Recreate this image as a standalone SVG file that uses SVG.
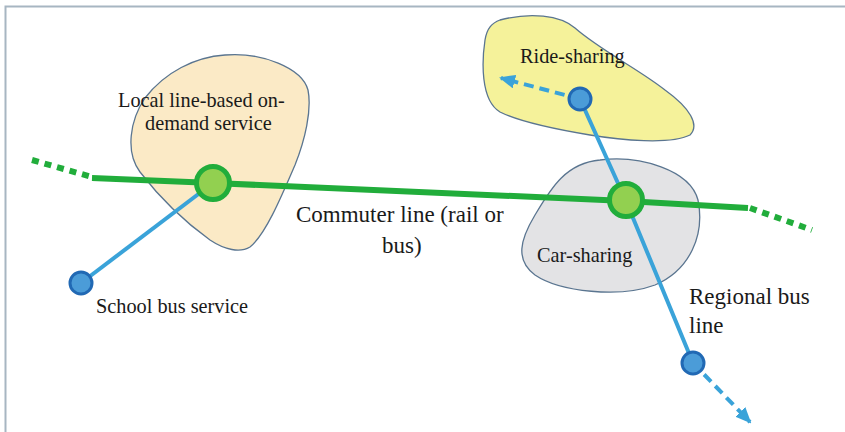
<svg xmlns="http://www.w3.org/2000/svg" width="845" height="432" viewBox="0 0 845 432">
  <defs>
    <marker id="arrow" viewBox="0 0 16 14" refX="14" refY="7" markerWidth="16" markerHeight="14" markerUnits="userSpaceOnUse" orient="auto">
      <path d="M0,0 L16,7 L0,14 Z" fill="#3aa3d9"/>
    </marker>
  </defs>
  <style>
    .area { stroke: #5a7590; stroke-width: 1.3; }
    .rail { fill: none; stroke: #21ad3b; stroke-width: 6; }
    .rail-ext { fill: none; stroke: #21ad3b; stroke-width: 6; stroke-dasharray: 7 6; }
    .bus { fill: none; stroke: #3aa3d9; stroke-width: 4; }
    .bus-ext { fill: none; stroke: #3aa3d9; stroke-width: 4; stroke-dasharray: 10 6; }
    .hub { fill: #92d050; stroke: #21ad3b; stroke-width: 5; }
    .stop { fill: #4b9cd8; stroke: #2169b4; stroke-width: 3; }
    .label { font-family: "Liberation Serif", "Times New Roman", serif; font-size: 20.3px; fill: #1a1a1a; }
    .label-lg { font-family: "Liberation Serif", "Times New Roman", serif; font-size: 23px; fill: #1a1a1a; }
  </style>

  <rect width="845" height="432" fill="#ffffff"/>
  <!-- frame -->
  <path d="M5.5,432 V6.5 H845" fill="none" stroke="#a7b6c2" stroke-width="2"/>

  <!-- service areas -->
  <g id="local-area">
    <path class="area" fill="#fbeac6" d="M225,55 C262,52 302,68 308,90 C312,110 305,140 295,165 C280,200 265,235 250,247 C240,253 225,250 210,240 C185,222 160,198 140,172 C125,152 130,120 145,98 C165,72 195,57 225,55 Z"/>
    <text class="label" x="118" y="107">Local line-based on-</text>
    <text class="label" x="145" y="130">demand service</text>
  </g>
  <g id="ride-sharing">
    <path class="area" fill="#f5f29a" d="M500,20 C530,12 560,15 575,28 C600,50 640,70 665,90 C690,108 700,125 690,135 C670,145 620,140 590,135 C560,130 520,122 500,112 C480,100 482,60 485,40 C487,28 492,23 500,20 Z"/>
    <text class="label" x="520" y="63">Ride-sharing</text>
  </g>
  <g id="car-sharing">
    <path class="area" fill="#e3e3e5" d="M600,160 C640,155 690,170 698,200 C705,235 690,270 655,285 C620,298 560,292 535,275 C515,260 520,240 535,215 C550,190 565,163 600,160 Z"/>
    <text class="label" x="537" y="262">Car-sharing</text>
  </g>

  <!-- connectors -->
  <g id="connectors">
    <path class="rail-ext" d="M32,160 L92,177"/>
    <path class="rail" d="M92,178 L213,183 L626,201 L748,208"/>
    <path class="rail-ext" d="M750,208 L812,230"/>
    <path class="bus" d="M213,183 L81,283"/>
    <path class="bus" d="M580,99 L626,201 L693,363"/>
    <path class="bus-ext" d="M580,99 L501,78" marker-end="url(#arrow)"/>
    <path class="bus-ext" d="M693,363 L750,422" marker-end="url(#arrow)"/>
  </g>

  <!-- stations -->
  <g id="hub-local"><circle class="hub" cx="213" cy="183" r="16.5"/></g>
  <g id="hub-car"><circle class="hub" cx="626" cy="200" r="16.5"/></g>
  <g id="stop-school">
    <circle class="stop" cx="81" cy="283" r="11"/>
    <text class="label" x="96" y="313">School bus service</text>
  </g>
  <g id="stop-ride"><circle class="stop" cx="580" cy="99" r="11"/></g>
  <g id="stop-regional">
    <circle class="stop" cx="693" cy="363" r="11"/>
    <text class="label-lg" x="689" y="304">Regional bus</text>
    <text class="label-lg" x="689" y="333">line</text>
  </g>
  <g id="commuter-label">
    <text class="label-lg" x="296" y="222">Commuter line (rail or</text>
    <text class="label-lg" x="382" y="253">bus)</text>
  </g>
</svg>
